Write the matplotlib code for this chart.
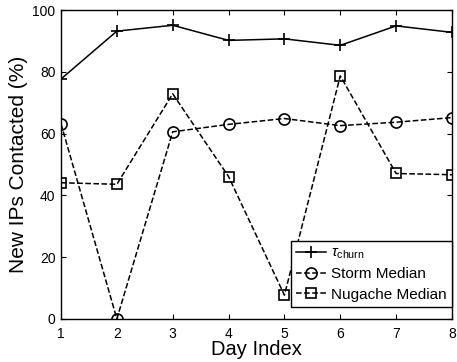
import numpy as np
import matplotlib.pyplot as plt

plt.rcParams['font.family'] = ['Liberation Sans', 'DejaVu Sans']
plt.rcParams['mathtext.fontset'] = 'custom'
plt.rcParams['mathtext.rm'] = 'Liberation Sans'
plt.rcParams['mathtext.it'] = 'Liberation Sans:italic'

days = [1, 2, 3, 4, 5, 6, 7, 8]
tau_churn = [77.7, 93.2, 95.1, 90.2, 90.7, 88.6, 94.9, 92.8]
storm_median = [63.2, 0.0, 60.6, 63.0, 64.9, 62.6, 63.7, 65.2]
nugache_median = [44.1, 43.6, 72.9, 46.1, 7.7, 78.7, 47.1, 46.7]

fig = plt.figure(figsize=(4.57, 3.62), dpi=100)
ax = fig.add_axes([0.1335, 0.119, 0.8555, 0.853])

ax.plot(days, tau_churn, '-', color='black', lw=1.1, marker='+', ms=8.5, mew=1.2,
        label=r'$\tau_{\mathrm{churn}}$')
ax.plot(days, storm_median, '--', color='black', lw=1.1, marker='o', ms=8, mew=1.2,
        mfc='none', label='Storm Median')
ax.plot(days, nugache_median, '--', color='black', lw=1.1, marker='s', ms=7, mew=1.2,
        mfc='none', label='Nugache Median')

ax.set_xlim(1, 8)
ax.set_ylim(0, 100)
ax.set_xticks(days)
ax.set_yticks([0, 20, 40, 60, 80, 100])
ax.tick_params(direction='in', top=True, right=True, labelsize=10, length=3.5, pad=4)
ax.tick_params(axis='x', pad=6)
for s in ax.spines.values():
    s.set_linewidth(1.0)

ax.set_xlabel('Day Index', fontsize=14.5, labelpad=-1)
ax.set_ylabel('New IPs Contacted (%)', fontsize=15, labelpad=3)

leg = ax.legend(loc='lower right', bbox_to_anchor=(1.0, 0.039), fontsize=11,
                borderaxespad=0, numpoints=1, fancybox=False, edgecolor='black',
                framealpha=1, handlelength=2.0, handletextpad=0.3, borderpad=0.35,
                labelspacing=0.4)
leg.get_frame().set_linewidth(1.0)

fig.savefig('out.png', dpi=100)
